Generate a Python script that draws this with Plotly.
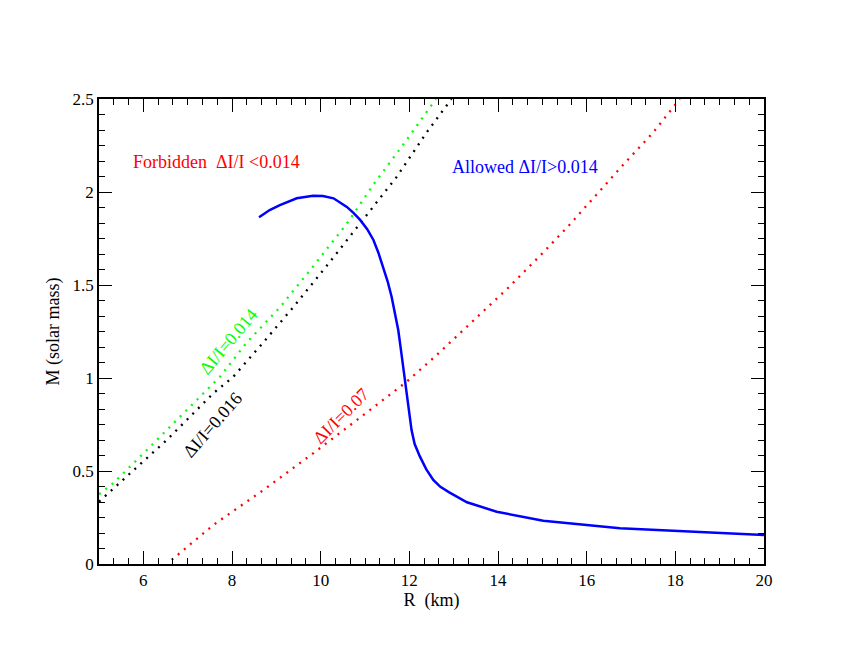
import plotly.graph_objects as go

# Mass-radius curve (blue)
r_eos = [8.61, 8.85, 9.08, 9.46, 9.83, 10.05, 10.29, 10.44, 10.59, 10.74, 10.89, 11.05, 11.19,
         11.30, 11.41, 11.51, 11.60, 11.68, 11.75, 11.80, 11.85, 11.90, 11.94, 12.00, 12.05,
         12.12, 12.24, 12.38, 12.54, 12.70, 12.90, 13.30, 13.97, 15.02, 16.75, 20.0]
m_eos = [1.864, 1.903, 1.93, 1.966, 1.98, 1.978, 1.966, 1.945, 1.92, 1.888, 1.85, 1.80, 1.742,
         1.675, 1.599, 1.52, 1.437, 1.35, 1.258, 1.17, 1.079, 0.99, 0.90, 0.80, 0.72,
         0.645, 0.577, 0.51, 0.452, 0.415, 0.385, 0.332, 0.281, 0.233, 0.192, 0.156]

# dI/I = 0.014 (green)
r_014 = [5.0, 5.32, 6.08, 6.90, 7.73, 8.33, 9.08, 9.83, 10.59, 11.19, 11.94, 12.6]
m_014 = [0.375, 0.434, 0.613, 0.81, 1.007, 1.19, 1.38, 1.60, 1.83, 2.04, 2.28, 2.5]

# dI/I = 0.016 (black)
r_016 = [5.0, 5.70, 6.53, 7.58, 8.03, 8.63, 9.38, 10.21, 10.96, 11.71, 12.39, 12.95]
m_016 = [0.335, 0.487, 0.667, 0.918, 1.007, 1.17, 1.38, 1.625, 1.85, 2.08, 2.32, 2.5]

# dI/I = 0.07 (red)
r_07 = [6.64, 7.58, 8.71, 9.83, 10.96, 11.94, 12.62, 13.41, 14.20, 15.0, 15.6, 16.2, 16.8, 17.5, 18.1]
m_07 = [0.022, 0.21, 0.398, 0.595, 0.80, 0.98, 1.124, 1.30, 1.478, 1.67, 1.82, 1.98, 2.14, 2.32, 2.5]

FONT = "Liberation Serif"
fig = go.Figure()
dot = "2px,6px"
fig.add_trace(go.Scatter(x=r_014, y=m_014, mode="lines",
                         line=dict(color="#00ff00", width=2.3, dash=dot)))
fig.add_trace(go.Scatter(x=r_016, y=m_016, mode="lines",
                         line=dict(color="#000000", width=2.3, dash=dot)))
fig.add_trace(go.Scatter(x=r_07, y=m_07, mode="lines",
                         line=dict(color="#ff0000", width=2.3, dash=dot)))
fig.add_trace(go.Scatter(x=r_eos, y=m_eos, mode="lines",
                         line=dict(color="#0000ff", width=2.5)))

ann = [
    dict(x=7.64, y=2.163, text="Forbidden  ΔI/I <0.014", color="#ff0000", angle=0),
    dict(x=14.61, y=2.136, text="Allowed ΔI/I>0.014", color="#0000ff", angle=0),
    dict(x=7.91, y=1.194, text="ΔI/I=0.014", color="#00ff00", angle=-50),
    dict(x=7.56, y=0.747, text="ΔI/I=0.016", color="#000000", angle=-49),
    dict(x=10.46, y=0.796, text="ΔI/I=0.07", color="#ff0000", angle=-45),
]
for a in ann:
    fig.add_annotation(x=a["x"], y=a["y"], text=a["text"], showarrow=False,
                       textangle=a["angle"], font=dict(family=FONT, size=18, color=a["color"]))

axis_common = dict(showgrid=False, zeroline=False, showline=True, linecolor="black",
                   linewidth=1.5, mirror="allticks", ticks="inside", ticklen=13,
                   tickwidth=1.3, tickcolor="black",
                   tickfont=dict(family=FONT, size=17, color="black"))
fig.update_xaxes(range=[5, 20], dtick=2, tick0=0,
                 minor=dict(dtick=1/3, ticklen=6, ticks="inside", tickcolor="black", tickwidth=1),
                 title=dict(text="R  (km)", font=dict(family=FONT, size=18, color="black"), standoff=2),
                 **axis_common)
fig.update_yaxes(range=[0, 2.5], dtick=0.5,
                 minor=dict(dtick=0.5/6, ticklen=6, ticks="inside", tickcolor="black", tickwidth=1),
                 title=dict(text="M (solar mass)", font=dict(family=FONT, size=18, color="black"), standoff=8),
                 **axis_common)
fig.update_layout(width=860, height=664, showlegend=False,
                  plot_bgcolor="white", paper_bgcolor="white",
                  margin=dict(l=91, r=104, t=91, b=108))
fig.write_html("out.html")
